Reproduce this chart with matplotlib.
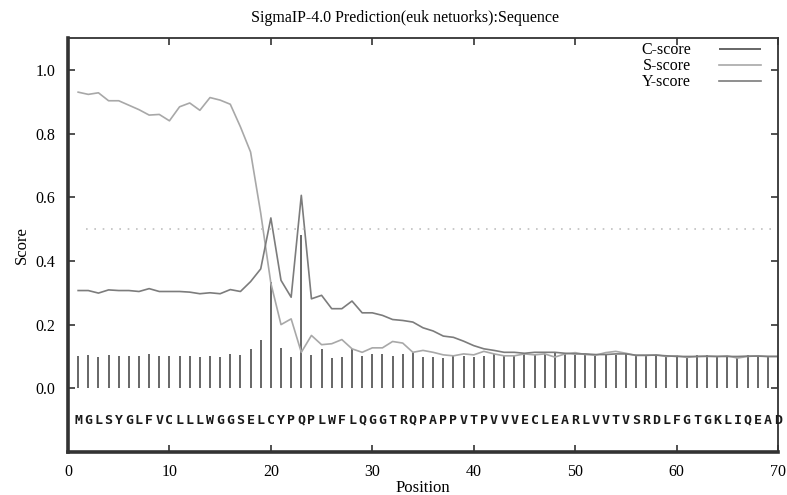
import numpy as np
import matplotlib
matplotlib.use("Agg")
import matplotlib.pyplot as plt

sequence = "MGLSYGLFVCLLLWGGSELCYPQPLWFLQGGTRQPAPPVTPVVVECLEARLVVTVSRDLFGTGKLIQEAD"
positions = np.arange(1, len(sequence) + 1)

c_score = [0.101, 0.105, 0.098, 0.105, 0.101, 0.101, 0.101, 0.108, 0.101, 0.101,
           0.101, 0.101, 0.098, 0.101, 0.098, 0.108, 0.105, 0.124, 0.153, 0.333,
           0.128, 0.098, 0.480, 0.105, 0.124, 0.096, 0.098, 0.124, 0.101, 0.108,
           0.108, 0.101, 0.108, 0.113, 0.098, 0.098, 0.096, 0.103, 0.101, 0.098,
           0.101, 0.108, 0.103, 0.103, 0.108, 0.108, 0.108, 0.115, 0.108, 0.103,
           0.108, 0.100, 0.103, 0.103, 0.108, 0.103, 0.103, 0.108, 0.100, 0.103,
           0.100, 0.103, 0.103, 0.100, 0.103, 0.096, 0.103, 0.105, 0.100, 0.100]

s_score = [0.930, 0.923, 0.928, 0.903, 0.903, 0.889, 0.875, 0.858, 0.860, 0.840,
           0.884, 0.896, 0.873, 0.913, 0.905, 0.892, 0.821, 0.742, 0.550, 0.330,
           0.200, 0.218, 0.113, 0.166, 0.137, 0.140, 0.153, 0.124, 0.113, 0.127,
           0.127, 0.147, 0.142, 0.113, 0.119, 0.113, 0.105, 0.102, 0.108, 0.105,
           0.116, 0.108, 0.102, 0.102, 0.108, 0.105, 0.108, 0.098, 0.108, 0.112,
           0.106, 0.104, 0.112, 0.116, 0.110, 0.103, 0.103, 0.105, 0.100, 0.102,
           0.097, 0.100, 0.100, 0.100, 0.102, 0.095, 0.100, 0.102, 0.100, 0.100]

y_score = [0.307, 0.307, 0.299, 0.309, 0.307, 0.307, 0.304, 0.313, 0.304, 0.304,
           0.304, 0.302, 0.297, 0.300, 0.297, 0.310, 0.304, 0.335, 0.375, 0.535,
           0.339, 0.286, 0.606, 0.281, 0.292, 0.250, 0.250, 0.274, 0.237, 0.237,
           0.229, 0.216, 0.213, 0.208, 0.190, 0.180, 0.164, 0.160, 0.148, 0.134,
           0.124, 0.119, 0.113, 0.113, 0.110, 0.113, 0.113, 0.113, 0.110, 0.108,
           0.108, 0.106, 0.106, 0.108, 0.108, 0.104, 0.104, 0.104, 0.102, 0.100,
           0.100, 0.100, 0.101, 0.100, 0.100, 0.100, 0.101, 0.101, 0.100, 0.100]

cutoff = 0.5
x_ticks = [0, 10, 20, 30, 40, 50, 60, 70]
y_ticks = [0.0, 0.2, 0.4, 0.6, 0.8, 1.0]

plt.rcParams['font.family'] = ['Liberation Serif', 'DejaVu Serif']

fig = plt.figure(figsize=(7.87, 4.95), dpi=100)
ax = fig.add_axes([0.0864, 0.0869, 0.9022, 0.8363])

# C-score as stems, S and Y as lines
ax.vlines(positions, 0, c_score, color='#5a5a5a', lw=1.3, label='C-score')
ax.plot(positions, s_score, color='#a8a8a8', lw=1.2, label='S-score')
ax.plot(positions, y_score, color='#7c7c7c', lw=1.2, label='Y-score')

# threshold line
ax.hlines(cutoff, positions[0] + 0.8, positions[-1] - 0.6, color='#c0c0c0',
          lw=1.2, linestyles=(0, (1, 4)))

# sequence letters
for p, aa in zip(positions, sequence):
    ax.text(p, -0.1, aa, ha='center', va='center', fontsize=9.5,
            family='DejaVu Sans Mono', fontweight='bold', color='#1a1a1a')

ax.set_xlim(0, 70)
ax.set_ylim(-0.2, 1.1)
ax.set_xticks(x_ticks)
ax.set_yticks(y_ticks)
ax.set_yticklabels(['%.1f' % v for v in y_ticks])
ax.tick_params(direction='in', top=True, right=True, labelsize=11.5,
               length=5, width=1.2, color='#333333', pad=9)

for side in ['left', 'bottom']:
    ax.spines[side].set_linewidth(2.6)
    ax.spines[side].set_color('#333333')
for side in ['top', 'right']:
    ax.spines[side].set_linewidth(1.3)
    ax.spines[side].set_color('#333333')

ax.set_xlabel('Position', fontsize=12, labelpad=0)
ax.set_ylabel('Score', fontsize=12, labelpad=4)

fig.text(0.515, 0.964, 'SigmaIP-4.0 Prediction(euk netuorks):Sequence',
         ha='center', va='center', fontsize=11.5)

ax.legend(loc='upper right', bbox_to_anchor=(0.976, 0.99), frameon=False,
          markerfirst=False, fontsize=11.5, labelspacing=0,
          handlelength=2.6, handletextpad=1.8, borderpad=0, borderaxespad=0)

fig.savefig('out.png', dpi=100)
